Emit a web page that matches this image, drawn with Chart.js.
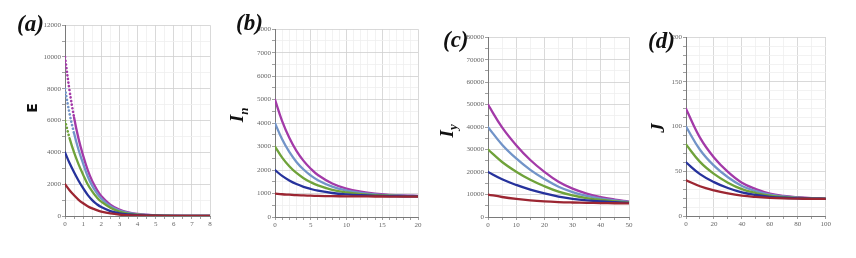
<!DOCTYPE html>
<html>
<head>
<meta charset="utf-8">
<script src="https://cdn.jsdelivr.net/npm/chart.js@4.4.1/dist/chart.umd.min.js"></script>
<style>
  body { margin: 0; background: #fff; width: 856px; height: 258px; position: relative; overflow: hidden; }
  canvas { position: absolute; }
  .tag { position: absolute; font-family: "Liberation Serif", serif; font-style: italic; font-weight: bold; font-size: 23px; color: #111; }
  .ylab { position: absolute; transform: rotate(-90deg); transform-origin: center center; color: #111; white-space: nowrap; }
  .ser { font-family: "Liberation Serif", serif; font-style: italic; font-weight: bold; font-size: 19px; }
  .ser sub { font-size: 13px; }
</style>
</head>
<body>
<canvas id="ca" width="180" height="210" style="left:35px;top:20px"></canvas>
<canvas id="cb" width="178" height="207" style="left:245px;top:24px"></canvas>
<canvas id="cc" width="176" height="199" style="left:458px;top:32px"></canvas>
<canvas id="cd" width="176" height="198" style="left:656px;top:32px"></canvas>

<div class="tag" style="left:17px;top:11px">(a)</div>
<div class="tag" style="left:236px;top:10px">(b)</div>
<div class="tag" style="left:443px;top:27px">(c)</div>
<div class="tag" style="left:648px;top:28px">(d)</div>

<div class="ylab" style="left:27px;top:100px;font-family:'DejaVu Sans',sans-serif;font-weight:bold;font-size:14px">E</div>
<div class="ylab ser" style="left:232px;top:102px">I<sub>n</sub></div>
<div class="ylab ser" style="left:442px;top:118px">I<sub>y</sub></div>
<div class="ylab ser" style="left:653px;top:117px">J</div>

<script>
// colours of the five curves (lowest start to highest start)
const colors = ['#9c2632', '#26329c', '#6fa23a', '#7294c8', '#a33aa8'];

// (a) E
const aX = [0, 0.25, 0.5, 0.75, 1, 1.25, 1.5, 1.75, 2, 2.5, 3, 3.5, 4, 5, 6, 7, 8];
const aRed    = [2000, 1620, 1300, 1020, 800, 620, 480, 370, 280, 160, 90, 55, 35, 15, 8, 5, 3];
const aBlue   = [4000, 3330, 2750, 2220, 1750, 1330, 1000, 750, 560, 310, 170, 95, 55, 20, 8, 5, 3];
const aGreen  = [6000, 4900, 4000, 3250, 2600, 2000, 1550, 1180, 900, 520, 280, 150, 85, 30, 12, 6, 3];
const aLight  = [8000, 6450, 5200, 4150, 3300, 2500, 1900, 1450, 1100, 620, 340, 190, 105, 35, 14, 7, 3];
const aPurple = [10000, 7900, 6200, 4850, 3800, 2900, 2200, 1680, 1260, 720, 410, 230, 130, 45, 16, 8, 4];

// (b) I_n
const bX = [0, 1, 2, 3, 4, 5, 6, 8, 10, 12, 14, 16, 18, 20];
const bRed    = [1000, 970, 950, 930, 918, 907, 899, 888, 881, 876, 874, 872, 871, 871];
const bBlue   = [2000, 1750, 1556, 1403, 1286, 1194, 1122, 1023, 963, 927, 904, 890, 882, 878];
const bGreen  = [3000, 2529, 2163, 1875, 1654, 1481, 1345, 1158, 1045, 977, 934, 908, 893, 885];
const bLight  = [4000, 3308, 2770, 2347, 2022, 1768, 1568, 1293, 1127, 1027, 964, 926, 904, 892];
const bPurple = [5000, 4087, 3377, 2819, 2390, 2055, 1791, 1428, 1209, 1077, 994, 944, 915, 899];

// (c) I_y
const cX = [0, 5, 10, 15, 20, 25, 30, 35, 40, 45, 50];
const cRed    = [10000, 8900, 8050, 7400, 6950, 6650, 6450, 6300, 6200, 6120, 6080];
const cBlue   = [20000, 16780, 14260, 12160, 10480, 9080, 8100, 7400, 6910, 6560, 6280];
const cGreen  = [30000, 24480, 20160, 16560, 13680, 11280, 9600, 8400, 7560, 6960, 6480];
const cLight  = [40000, 32180, 26060, 20960, 16880, 13480, 11100, 9400, 8210, 7360, 6680];
const cPurple = [50000, 39880, 31960, 25360, 20080, 15680, 12600, 10400, 8860, 7760, 6880];

// (d) J
const dX = [0, 10, 20, 30, 40, 50, 60, 70, 80, 90, 100];
const dRed    = [40, 33.3, 28.7, 25.3, 22.8, 21.3, 20.3, 19.7, 19.4, 19.2, 19.1];
const dBlue   = [60, 46.9, 37.9, 31.3, 26.4, 23.5, 21.5, 20.4, 19.8, 19.4, 19.2];
const dGreen  = [80, 60.5, 47.1, 37.3, 30, 25.7, 22.7, 21.1, 20.2, 19.6, 19.3];
const dLight  = [100, 74.1, 56.3, 43.3, 33.6, 27.9, 23.9, 21.8, 20.6, 19.8, 19.4];
const dPurple = [120, 87.7, 65.5, 49.3, 37.2, 30.1, 25.1, 22.5, 21, 20, 19.5];

const tickFont = { family: 'Liberation Serif', size: 7 };

function isMajor(v, major) {
    return Math.abs(v / major - Math.round(v / major)) < 1e-6;
}

function makePanel(id, xs, series, o) {
    const datasets = series.map((ys, i) => ({
        data: xs.map((x, j) => ({ x: x, y: ys[j] })),
        borderColor: colors[i],
        borderWidth: 2.3,
        pointRadius: 0,
        tension: 0.4,
        borderCapStyle: 'round',
        segment: o.dotted && o.dotted[i] ? {
            borderDash: ctx => ctx.p0.parsed.x < o.dotted[i] ? [0.1, 3.6] : undefined,
            borderWidth: ctx => ctx.p0.parsed.x < o.dotted[i] ? 2.6 : 2.3
        } : undefined
    }));
    const axis = (max, step, major, isY) => ({
        type: 'linear',
        min: 0,
        max: max,
        grid: {
            color: ctx => isMajor(ctx.tick.value, major) ? '#cfcfcf' : '#efefef',
            lineWidth: 0.8,
            tickLength: 3,
            tickColor: '#888'
        },
        border: { display: true, color: '#7a7a7a', width: 1 },
        ticks: {
            stepSize: step,
            autoSkip: false,
            maxRotation: 0,
            font: tickFont,
            color: '#666',
            padding: 1,
            callback: v => isMajor(v, major) ? String(v) : ''
        },
        afterFit: s => { if (isY) s.width = 30; else s.height = 14; }
    });
    new Chart(document.getElementById(id), {
        type: 'line',
        data: { datasets: datasets },
        options: {
            responsive: false,
            animation: false,
            devicePixelRatio: 1,
            layout: { padding: { top: 5, right: 5, left: 0, bottom: 0 } },
            plugins: { legend: { display: false }, tooltip: { enabled: false } },
            scales: {
                x: axis(o.xMax, o.xStep, o.xMajor, false),
                y: axis(o.yMax, o.yStep, o.yMajor, true)
            }
        }
    });
}

makePanel('ca', aX, [aRed, aBlue, aGreen, aLight, aPurple],
    { xMax: 8, xStep: 0.5, xMajor: 1, yMax: 12000, yStep: 1000, yMajor: 2000, dotted: [0, 0, 0.25, 0.5, 0.5] });
makePanel('cb', bX, [bRed, bBlue, bGreen, bLight, bPurple],
    { xMax: 20, xStep: 1, xMajor: 5, yMax: 8000, yStep: 500, yMajor: 1000 });
makePanel('cc', cX, [cRed, cBlue, cGreen, cLight, cPurple],
    { xMax: 50, xStep: 5, xMajor: 10, yMax: 80000, yStep: 5000, yMajor: 10000 });
makePanel('cd', dX, [dRed, dBlue, dGreen, dLight, dPurple],
    { xMax: 100, xStep: 10, xMajor: 20, yMax: 200, yStep: 10, yMajor: 50 });
</script>
</body>
</html>
